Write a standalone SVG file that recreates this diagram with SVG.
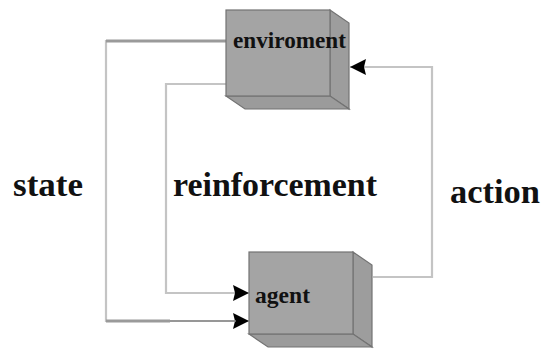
<svg xmlns="http://www.w3.org/2000/svg" width="542" height="349" viewBox="0 0 542 349">
<style>
.face{fill:#a4a4a4;stroke:#737373;stroke-width:1.2}
.side{fill:#9d9d9d;stroke:#737373;stroke-width:1.2}
.bot{fill:#9b9b9b;stroke:#737373;stroke-width:1.2}
.conn{fill:none;stroke:#c4c4c4;stroke-width:2.2}
.lbl{font-family:"Liberation Serif","Times New Roman",serif;font-weight:bold;fill:#111}
.big{font-size:33px}
.small{font-size:23px}
</style>
<defs>
<marker id="arr" viewBox="0 0 16 16" refX="16" refY="8" markerWidth="16" markerHeight="16" markerUnits="userSpaceOnUse" orient="auto">
<path d="M0,0 L16,8 L0,16 L2,8 z" fill="#000"/>
</marker>
</defs>
<g id="connectors">
<path class="conn" d="M226,41 H106 V321 H249" marker-end="url(#arr)"/>
<path d="M226,41 H106" fill="none" stroke="#9a9a9a" stroke-width="3"/>
<path d="M106,321 H170" fill="none" stroke="#9a9a9a" stroke-width="3"/>
<path d="M170,321 H236" fill="none" stroke="#888" stroke-width="1.6"/>
<path class="conn" d="M226,84 H166 V293 H249" marker-end="url(#arr)"/>
<path class="conn" d="M373,277 H432 V67 H350" marker-end="url(#arr)"/>
</g>
<g id="enviroment">
<polygon class="side" points="330,10 349,23 349,109 330,96"/>
<polygon class="bot" points="226,96 245,109 349,109 330,96"/>
<rect class="face" x="226" y="10" width="104" height="86"/>
<text class="lbl small" x="233" y="48" textLength="113" lengthAdjust="spacingAndGlyphs">enviroment</text>
</g>
<g id="agent">
<polygon class="side" points="353,252 372,265 372,347 353,334"/>
<polygon class="bot" points="249,334 268,347 372,347 353,334"/>
<rect class="face" x="249" y="252" width="104" height="82"/>
<text class="lbl small" x="255" y="303" textLength="55" lengthAdjust="spacingAndGlyphs">agent</text>
</g>
<g id="labels">
<text class="lbl big" x="13" y="196" textLength="70" lengthAdjust="spacingAndGlyphs">state</text>
<text class="lbl big" x="173" y="196" textLength="204" lengthAdjust="spacingAndGlyphs">reinforcement</text>
<text class="lbl big" x="450" y="203" textLength="90" lengthAdjust="spacingAndGlyphs">action</text>
</g>
</svg>
